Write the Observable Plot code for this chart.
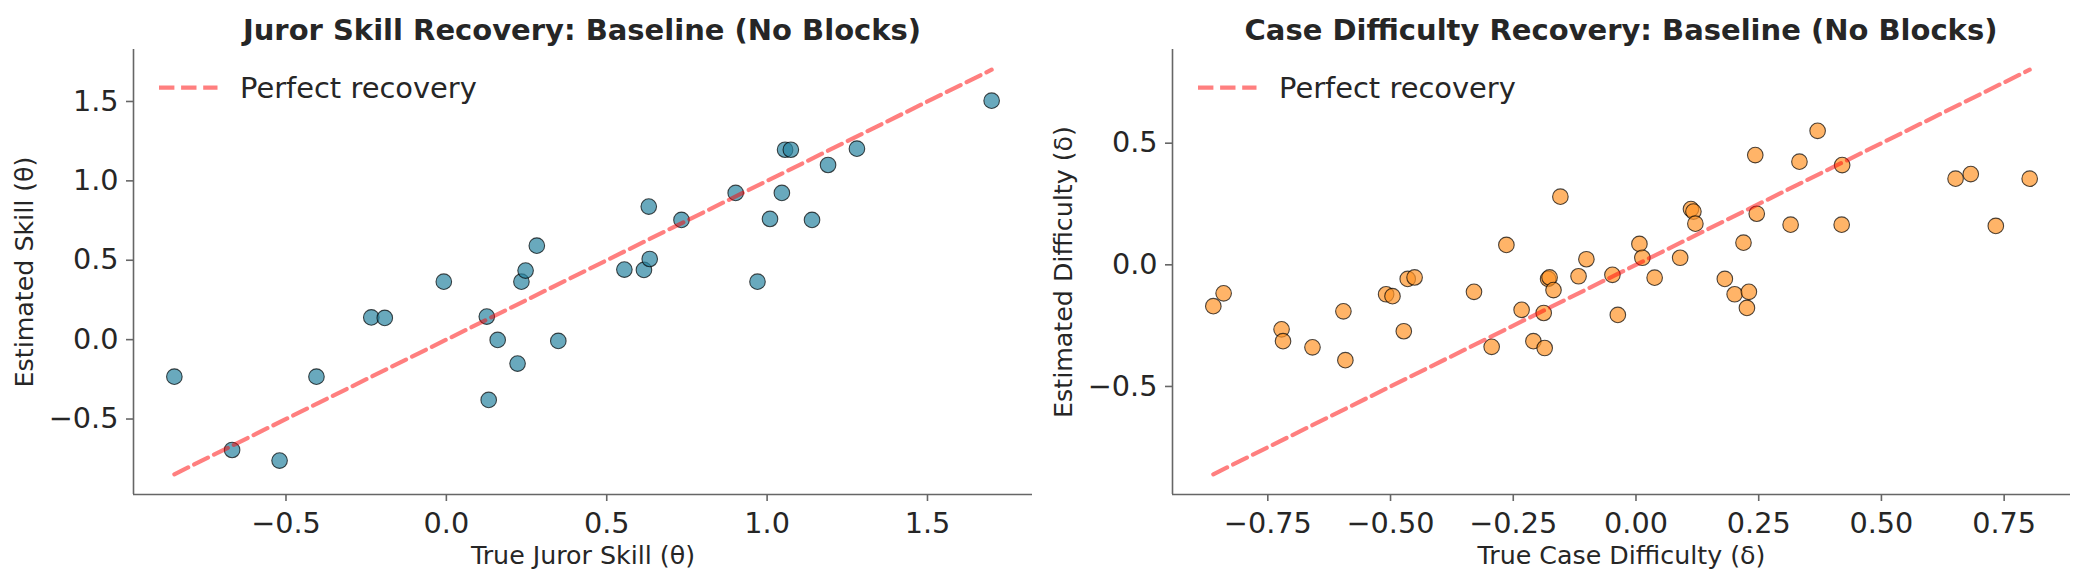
<!DOCTYPE html>
<html>
<head>
<meta charset="utf-8">
<script src="https://cdn.jsdelivr.net/npm/d3@7"></script>
<script src="https://cdn.jsdelivr.net/npm/@observablehq/plot@0.6"></script>
<style>
  html, body { margin: 0; padding: 0; background: #fff; }
  #root { position: relative; width: 2084px; height: 584px; overflow: hidden;
          font-family: "DejaVu Sans", sans-serif; color: #262626; }
  .title { position: absolute; top: 13px; font-weight: bold; font-size: 29px; line-height: 34px;
           white-space: nowrap; transform: translateX(-50%); color: #262626; }
  .panel { position: absolute; top: 45px; }
  .legend { position: absolute; top: 72px; height: 32px; white-space: nowrap; }
  .legend svg { position: absolute; left: 0; top: 0; }
  .legend span { position: absolute; top: 2.2px; font-size: 28.9px; line-height: 28.9px; color: #262626; }
</style>
</head>
<body>
<div id="root"></div>
<script>
// ---------------- data ----------------
const jurorTrue = [-0.848, -0.668, -0.520, -0.405, -0.234, -0.192, -0.008, 0.126, 0.160, 0.132,
                   0.222, 0.234, 0.247, 0.282, 0.349, 0.555, 0.616, 0.634, 0.631, 0.733,
                   0.902, 0.970, 1.009, 1.046, 1.056, 1.074, 1.140, 1.190, 1.280, 1.700];
const jurorEst  = [-0.233, -0.695, -0.762, -0.233, 0.140, 0.137, 0.365, 0.145, -0.002, -0.380,
                   -0.151, 0.365, 0.435, 0.592, -0.008, 0.441, 0.439, 0.508, 0.838, 0.754,
                   0.924, 0.365, 0.760, 0.924, 1.196, 1.196, 0.754, 1.100, 1.203, 1.505];

const caseTrue = [-0.861, -0.840, -0.722, -0.719, -0.659, -0.596, -0.592, -0.509, -0.496, -0.473,
                  -0.465, -0.451, -0.330, -0.294, -0.264, -0.233, -0.209, -0.186, -0.188, -0.179,
                  -0.176, -0.168, -0.154, -0.117, -0.101, -0.048, -0.037, 0.007, 0.013, 0.038,
                  0.090, 0.112, 0.117, 0.121, 0.181, 0.201, 0.219, 0.230, 0.226, 0.243,
                  0.246, 0.315, 0.333, 0.370, 0.420, 0.419, 0.651, 0.682, 0.733, 0.802];
const caseEst  = [-0.170, -0.117, -0.265, -0.314, -0.339, -0.191, -0.392, -0.121, -0.129, -0.273,
                  -0.058, -0.052, -0.111, -0.337, 0.082, -0.185, -0.314, -0.342, -0.198, -0.058,
                  -0.052, -0.104, 0.280, -0.047, 0.023, -0.041, -0.206, 0.086, 0.029, -0.053,
                  0.029, 0.229, 0.219, 0.169, -0.058, -0.121, 0.091, -0.111, -0.177, 0.451,
                  0.210, 0.165, 0.424, 0.551, 0.410, 0.165, 0.354, 0.373, 0.160, 0.354];

const jurorXTicks = [-0.5, 0.0, 0.5, 1.0, 1.5];
const jurorYTicks = [-0.5, 0.0, 0.5, 1.0, 1.5];
const caseXTicks = [-0.75, -0.50, -0.25, 0.00, 0.25, 0.50, 0.75];
const caseYTicks = [-0.5, 0.0, 0.5];

const titles = ["Juror Skill Recovery: Baseline (No Blocks)", "Case Difficulty Recovery: Baseline (No Blocks)"];
const xLabels = ["True Juror Skill (θ)", "True Case Difficulty (δ)"];
const yLabels = ["Estimated Skill (θ)", "Estimated Difficulty (δ)"];
const legendLabel = "Perfect recovery";
const colors = ["#2A84A1", "#FF9428"];

// ---------------- drawing ----------------
const root = document.getElementById("root");
const SPINE = "#666666";
const TEXT = "#262626";

function panel({trueVals, estVals, color, xTicks, yTicks, xFmt, yFmt, xLabel, yLabel, marginLeft, marginRight}) {
  const pts = trueVals.map((t, i) => ({t, e: estVals[i]}));
  const lo = Math.min(d3.min(trueVals), d3.min(estVals));
  const hi = Math.max(d3.max(trueVals), d3.max(estVals));
  const pad = 0.05 * (hi - lo);
  const dom = [lo - pad, hi + pad];
  return Plot.plot({
    width: 1042, height: 539,
    marginLeft, marginRight, marginTop: 4, marginBottom: 90,
    style: {fontFamily: "DejaVu Sans", background: "transparent", overflow: "visible"},
    x: {domain: dom},
    y: {domain: dom},
    marks: [
      Plot.axisX({ticks: xTicks, tickFormat: xFmt, tickSize: 7, tickPadding: 11, fontSize: 28.7,
                  stroke: SPINE, strokeWidth: 1.6, color: TEXT, label: null}),
      Plot.axisY({ticks: yTicks, tickFormat: yFmt, tickSize: 7, tickPadding: 8, fontSize: 28.7,
                  stroke: SPINE, strokeWidth: 1.6, color: TEXT, label: null}),
      Plot.ruleX([dom[0]], {stroke: SPINE, strokeWidth: 1.6}),
      Plot.ruleY([dom[0]], {stroke: SPINE, strokeWidth: 1.6}),
      Plot.dot(pts, {x: "t", y: "e", r: 7.8, fill: color, fillOpacity: 0.7,
                     stroke: "black", strokeOpacity: 0.7, strokeWidth: 1.1}),
      Plot.line([{v: lo}, {v: hi}], {x: "v", y: "v", stroke: "red", strokeOpacity: 0.5,
                     strokeWidth: 4.2, strokeDasharray: "15.4,6.7"}),
      Plot.text([xLabel], {text: d => d, frameAnchor: "bottom", textAnchor: "middle", lineAnchor: "bottom",
                     dy: 69, fontSize: 25.3, fill: TEXT}),
      Plot.text([yLabel], {text: d => d, frameAnchor: "left", textAnchor: "middle", lineAnchor: "bottom",
                     rotate: -90, dx: -100.2, fontSize: 25.3, fill: TEXT})
    ]
  });
}

const specs = [
  {left: 0, trueVals: jurorTrue, estVals: jurorEst, color: colors[0], xTicks: jurorXTicks, yTicks: jurorYTicks,
   xFmt: d3.format(".1f"), yFmt: d3.format(".1f"), xLabel: xLabels[0], yLabel: yLabels[0],
   marginLeft: 133, marginRight: 10, titleX: 582, legendX: 159},
  {left: 1042, trueVals: caseTrue, estVals: caseEst, color: colors[1], xTicks: caseXTicks, yTicks: caseYTicks,
   xFmt: d3.format(".2f"), yFmt: d3.format(".1f"), xLabel: xLabels[1], yLabel: yLabels[1],
   marginLeft: 130, marginRight: 14, titleX: 1621, legendX: 1198}
];

specs.forEach((s, i) => {
  const t = document.createElement("div");
  t.className = "title";
  t.style.left = s.titleX + "px";
  t.textContent = titles[i];
  root.appendChild(t);

  const p = document.createElement("div");
  p.className = "panel";
  p.style.left = s.left + "px";
  p.appendChild(panel(s));
  root.appendChild(p);

  const lg = document.createElement("div");
  lg.className = "legend";
  lg.style.left = s.legendX + "px";
  lg.innerHTML = `<svg width="60" height="32"><line x1="0" x2="58.5" y1="15.7" y2="15.7" stroke="red" stroke-opacity="0.5" stroke-width="4.2" stroke-dasharray="15.4,6.7"/></svg><span style="left:81px">${legendLabel}</span>`;
  root.appendChild(lg);
});
</script>
</body>
</html>
